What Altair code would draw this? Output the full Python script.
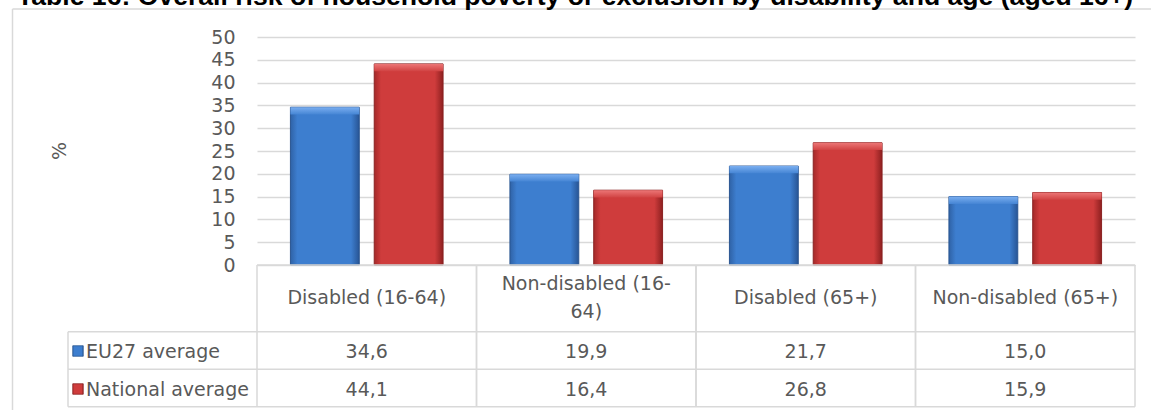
import altair as alt
import pandas as pd

# ---------------- data ----------------
categories = ["Disabled (16-64)", "Non-disabled (16-64)", "Disabled (65+)", "Non-disabled (65+)"]
header_labels = ["Disabled (16-64)", "Non-disabled (16-\n64)", "Disabled (65+)", "Non-disabled (65+)"]
series = ["EU27 average", "National average"]
eu27 = [34.6, 19.9, 21.7, 15.0]
national = [44.1, 16.4, 26.8, 15.9]
y_ticks = [0, 5, 10, 15, 20, 25, 30, 35, 40, 45, 50]
title_text = "Table 16: Overall risk of household poverty or exclusion by disability and age (aged 16+)"
y_title = "%"

rows = []
for c, a, b in zip(categories, eu27, national):
    rows.append({"cat": c, "series": series[0], "value": a})
    rows.append({"cat": c, "series": series[1], "value": b})
df = pd.DataFrame(rows)
df["label"] = df["value"].map(lambda v: f"{v:.1f}".replace(".", ","))
hdr = pd.DataFrame({"cat": categories, "header": header_labels})
hdr["multi"] = hdr["header"].str.contains("\n")
leg = pd.DataFrame({"series": series})
one = pd.DataFrame({"k": [0]})

# ---------------- layout / style ----------------
W, H = 878, 228
FONT = "DejaVu Sans"
FS = 19
GRAY = "#595959"
LINE = "#d9d9d9"
ROW1_Y = 315
ROW2_Y = 353
LEG_LEFT = -189

x = alt.X("cat:N", sort=categories,
          scale=alt.Scale(domain=categories, paddingInner=0, paddingOuter=0), axis=None)
y = alt.Y("value:Q", scale=alt.Scale(domain=[0, 50], nice=False, zero=True),
          axis=alt.Axis(values=y_ticks, title=None, ticks=False, domain=False, labelPadding=22,
                        labelFont=FONT, labelFontSize=FS, labelColor=GRAY, gridColor=LINE,
                        gridWidth=1.5, labelFlush=False, labelOverlap=False))
xoff = alt.XOffset("series:N", sort=series,
                   scale=alt.Scale(domain=series, paddingInner=0.1786, paddingOuter=0.399))


def hgrad(edge, mid, edge2):
    return alt.Gradient(gradient="linear", x1=0, x2=1, y1=0, y2=0, stops=[
        alt.GradientStop(color=edge, offset=0),
        alt.GradientStop(color=mid, offset=0.1),
        alt.GradientStop(color=mid, offset=0.88),
        alt.GradientStop(color=edge2, offset=1)])


def vgrad(top, bottom):
    return alt.Gradient(gradient="linear", x1=0, x2=0, y1=0, y2=1, stops=[
        alt.GradientStop(color=top, offset=0),
        alt.GradientStop(color=bottom, offset=1)])


blue_fill = hgrad("#2f62a6", "#3d7ecf", "#285595")
red_fill = hgrad("#a52a2a", "#cf3c3c", "#8e2020")
blue_top = vgrad("#7aaef0", "#4585d4")
red_top = vgrad("#ec7676", "#d14343")

layers = []

# outer frame
layers.append(alt.Chart(one).mark_rule(color=LINE, strokeWidth=1.5).encode(
    x=alt.value(-244.5), y=alt.value(-28), y2=alt.value(373)))
layers.append(alt.Chart(one).mark_rule(color=LINE, strokeWidth=1.5).encode(
    x=alt.value(-244.5), x2=alt.value(894), y=alt.value(-28)))

# bars
for s, fill, topfill, stroke in [(series[0], blue_fill, blue_top, "#2a5590"),
                                 (series[1], red_fill, red_top, "#8a2222")]:
    base = alt.Chart(df).transform_filter(alt.datum.series == s)
    layers.append(base.mark_bar(color=fill, stroke=stroke, strokeWidth=1).encode(
        x=x, xOffset=xoff, y=y))
    layers.append(base.transform_calculate(top="datum.value - 1.6").mark_bar(
        color=topfill, stroke=None).encode(
        x=x, xOffset=xoff, y=y, y2="top:Q"))

# table lines
TOP_HDR, R1, R2, R3 = 228, 294.7, 332.3, 369.7
layers.append(alt.Chart(one).mark_rule(color=LINE, strokeWidth=1.5).encode(
    x=alt.value(0), x2=alt.value(W), y=alt.value(TOP_HDR)))
for yy in (R1, R2, R3):
    layers.append(alt.Chart(one).mark_rule(color=LINE, strokeWidth=1.5).encode(
        x=alt.value(LEG_LEFT), x2=alt.value(W), y=alt.value(yy)))
layers.append(alt.Chart(one).mark_rule(color=LINE, strokeWidth=1.5).encode(
    x=alt.value(LEG_LEFT), y=alt.value(R1), y2=alt.value(R3)))
for bp in (0, 1):
    layers.append(alt.Chart(hdr).mark_rule(color=LINE, strokeWidth=1.5).encode(
        x=alt.X("cat:N", sort=categories, bandPosition=bp,
                scale=alt.Scale(domain=categories, paddingInner=0, paddingOuter=0), axis=None),
        y=alt.value(TOP_HDR), y2=alt.value(R3)))

# header text (single-line and wrapped headers)
for multi, yy in [(False, 261), (True, 246.5)]:
    layers.append(alt.Chart(hdr).transform_filter(alt.datum.multi == multi).mark_text(
        font=FONT, fontSize=FS, color=GRAY, lineBreak="\n", lineHeight=28,
        baseline="middle", align="center").encode(
        x=x, y=alt.value(yy), text="header:N"))

# value rows
for s, yy in [(series[0], ROW1_Y), (series[1], ROW2_Y)]:
    layers.append(alt.Chart(df).transform_filter(alt.datum.series == s).mark_text(
        font=FONT, fontSize=FS, color=GRAY, baseline="middle", align="center").encode(
        x=x, y=alt.value(yy), text="label:N"))

# legend column
for s, yy, fill, stroke in [(series[0], ROW1_Y, blue_fill, "#2a5590"),
                            (series[1], ROW2_Y, red_fill, "#8a2222")]:
    base = alt.Chart(leg).transform_filter(alt.datum.series == s)
    layers.append(base.mark_square(size=110, color=fill, stroke=stroke, strokeWidth=0.8,
                                   opacity=1, filled=True).encode(
        x=alt.value(LEG_LEFT + 10), y=alt.value(yy - 1)))
    layers.append(base.mark_text(font=FONT, fontSize=FS, color=GRAY, baseline="middle",
                                 align="left").encode(
        x=alt.value(LEG_LEFT + 18), y=alt.value(yy), text="series:N"))

# y title
layers.append(alt.Chart(one).transform_calculate(t=f"'{y_title}'").mark_text(
    font=FONT, fontSize=FS, color=GRAY, angle=270, baseline="middle", align="center").encode(
    x=alt.value(-197), y=alt.value(114), text="t:N"))

# chart title (cut at top, as in the reference)
layers.append(alt.Chart(one).transform_calculate(t="'" + title_text + "'").mark_text(
    font="Liberation Sans", fontWeight="bold", fontSize=26.6, color="#000000",
    baseline="alphabetic", align="left").encode(
    x=alt.value(-240), y=alt.value(-32), text="t:N"))

chart = alt.layer(*layers).properties(
    width=W, height=H,
    autosize=alt.AutoSizeParams(type="none"),
    padding={"left": 257, "top": 37, "right": 16, "bottom": 145},
    background="white",
).configure_view(stroke=None)

chart.save("out.html", embed_options={"renderer": "svg", "actions": False})
